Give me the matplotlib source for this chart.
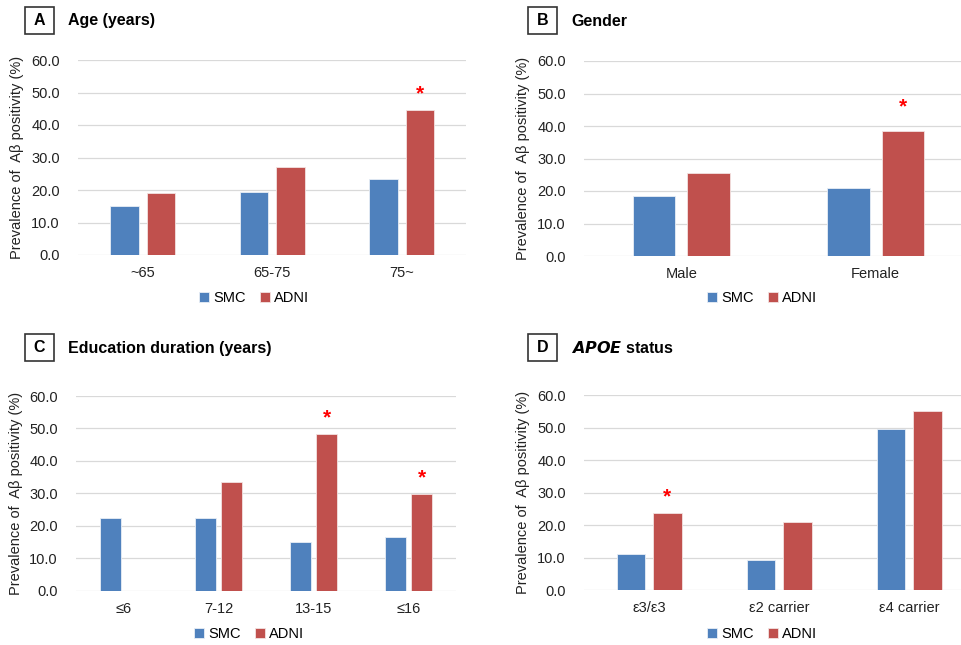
import numpy as np
import matplotlib
matplotlib.use('Agg')
import matplotlib.pyplot as plt
from matplotlib.patches import Rectangle

plt.rcParams['font.family'] = ['Liberation Sans', 'DejaVu Sans']

# data
age_cats = ['~65', '65-75', '75~']
age_smc = [15.0, 19.3, 23.5]
age_adni = [19.0, 27.2, 44.5]
age_star = [2]

gender_cats = ['Male', 'Female']
gender_smc = [18.5, 20.8]
gender_adni = [25.4, 38.5]
gender_star = [1]

edu_cats = ['≤6', '7-12', '13-15', '≤16']
edu_smc = [22.5, 22.3, 14.9, 16.5]
edu_adni = [np.nan, 33.4, 48.4, 29.8]
edu_star = [2, 3]

apoe_cats = ['ε3/ε3', 'ε2 carrier', 'ε4 carrier']
apoe_smc = [11.1, 9.4, 49.5]
apoe_adni = [23.8, 21.0, 55.2]
apoe_star = [0]

SMC_COL = '#4F81BD'
ADNI_COL = '#C0504D'

W, H = 962, 645
fig = plt.figure(figsize=(W / 100, H / 100), dpi=100)


def px_axes(left, right, top, bottom):
    return fig.add_axes([left / W, 1 - bottom / H, (right - left) / W, (bottom - top) / H])


panels = [
    # letter, title, cats, smc, adni, stars, axes px, box px, star offset, legend center
    ('A', 'Age (years)', age_cats, age_smc, age_adni, age_star,
     (78, 466.5, 60, 255), (25, 7), 12, (254, 298)),
    ('B', 'Gender', gender_cats, gender_smc, gender_adni, gender_star,
     (584, 973, 61, 256), (528, 7), 17, (762, 298)),
    ('C', 'Education duration (years)', edu_cats, edu_smc, edu_adni, edu_star,
     (76, 456, 396, 590.7), (25, 334), 11.5, (249, 634)),
    ('D', None, apoe_cats, apoe_smc, apoe_adni, apoe_star,
     (584, 974, 395.3, 590.3), (528, 334), 11.5, (762, 634)),
]

bw = 0.22
gap = 0.06

for letter, title, cats, smc, adni, stars, apx, box, soff, legc in panels:
    ax = px_axes(*apx)
    x = np.arange(len(cats))
    ax.bar(x - (bw + gap) / 2, smc, bw, color=SMC_COL, edgecolor='#E8EEF6', linewidth=0.6,
           label='SMC', zorder=3)
    ax.bar(x + (bw + gap) / 2, adni, bw, color=ADNI_COL, edgecolor='#F3E2E1', linewidth=0.6,
           label='ADNI', zorder=3)
    for i in stars:
        ax.annotate('*', (x[i] + (bw + gap) / 2, adni[i]), xytext=(0, soff),
                    textcoords='offset points', ha='center', va='center',
                    color='#FF0000', fontsize=15, fontweight='bold')
    ax.set_xlim(-0.5, len(cats) - 0.5)
    ax.set_ylim(0, 60)
    ax.set_yticks(np.arange(0, 61, 10))
    ax.set_yticklabels([f'{v:.1f}' for v in np.arange(0, 61, 10)])
    ax.set_xticks(x)
    ax.set_xticklabels(cats)
    ax.tick_params(length=0, labelsize=10.5, colors='#222222')
    ax.tick_params(axis='y', pad=13)
    ax.tick_params(axis='x', pad=8)
    ax.grid(axis='y', color='#D9D9D9', linewidth=0.9, zorder=0)
    for s in ax.spines.values():
        s.set_visible(False)
    ax.set_ylabel('Prevalence of  Aβ positivity (%)', fontsize=10.5, color='#222222')
    ax.yaxis.set_label_coords(-0.139, 0.5)

    lx, ly = legc
    ax.legend(loc='center', bbox_to_anchor=(lx / W, 1 - ly / H), bbox_transform=fig.transFigure,
              ncol=2, frameon=False, fontsize=10.5, handlelength=0.7, handleheight=0.7,
              handletextpad=0.25, columnspacing=1.0)

    # letter box
    bx, by = box
    fig.add_artist(Rectangle((bx / W, 1 - (by + 27) / H), 29 / W, 27 / H,
                             transform=fig.transFigure, fill=False, edgecolor='#333333',
                             linewidth=1.2))
    fig.text((bx + 14.5) / W, 1 - (by + 13.5) / H, letter, ha='center', va='center',
             fontsize=11.5, fontweight='bold')
    tx = (bx + 43) / W
    ty = 1 - (by + 14) / H
    if title is not None:
        fig.text(tx, ty, title, ha='left', va='center', fontsize=11.5, fontweight='bold')
    else:
        fig.text(tx, ty, r'$\bfit{APOE}$' + ' status', ha='left', va='center',
                 fontsize=11.5, fontweight='bold')

fig.savefig('out.png', dpi=100)
